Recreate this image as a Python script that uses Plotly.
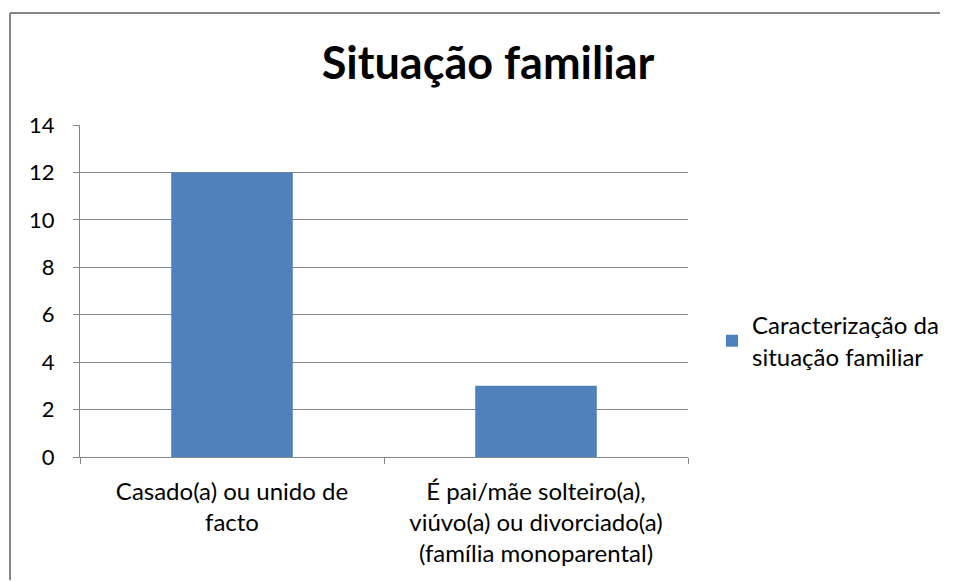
import plotly.graph_objects as go

categories = ["Casado(a) ou unido de<br>facto",
              "É pai/mãe solteiro(a),<br>viúvo(a) ou divorciado(a)<br>(família monoparental)"]
values = [12, 3]
series_name = "Caracterização da<br>situação familiar"
title_text = "Situação familiar"
y_ticks = [0, 2, 4, 6, 8, 10, 12, 14]

FONT = "Lato, 'Open Sans', sans-serif"
W, H = 957, 581
L, R, T, B = 80, 269, 125, 124
pw, ph = W - L - R, H - T - B

fig = go.Figure()
fig.add_trace(go.Bar(x=categories, y=values, name=series_name,
                     marker=dict(color="#4F81BD", line=dict(width=0)),
                     showlegend=True))

bx0 = (10 - L) / pw
bx1 = (940 - L) / pw
by0 = -(B - 1) / ph
by1 = (H - B - 13) / ph
border = dict(color="#868686", width=2)

fig.update_layout(
    width=W, height=H,
    margin=dict(l=L, r=R, t=T, b=B),
    paper_bgcolor="white", plot_bgcolor="white",
    bargap=0.6,
    title=dict(text="<b>" + title_text + "</b>", x=488 / W, xanchor="center",
               y=1 - 63 / H, yanchor="middle",
               font=dict(family=FONT, size=45, color="black")),
    font=dict(family=FONT, color="black"),
    showlegend=True,
    legend=dict(x=(712 - L) / pw, xanchor="left", y=(457 - 341) / ph, yanchor="middle",
                font=dict(size=24, color="black"), bgcolor="rgba(0,0,0,0)",
                itemsizing="constant", tracegroupgap=0),
    xaxis=dict(showline=True, linecolor="#868686", linewidth=1,
               ticks="outside", tickson="boundaries", ticklen=6, tickcolor="#868686",
               tickfont=dict(size=24, color="black"), showgrid=False,
               ticklabelstandoff=13),
    yaxis=dict(range=[0, 14], tickvals=y_ticks, showline=True, linecolor="#868686",
               linewidth=1, ticks="outside", ticklen=6, tickcolor="#868686",
               showgrid=True, gridcolor="#868686", gridwidth=1,
               tickfont=dict(size=22, color="black"), ticklabelstandoff=14,
               zeroline=False),
    shapes=[
        dict(type="line", xref="paper", yref="paper", x0=bx0, x1=bx1, y0=by1, y1=by1,
             line=border, layer="below"),
        dict(type="line", xref="paper", yref="paper", x0=bx0, x1=bx0, y0=by0, y1=by1,
             line=border, layer="below"),
    ],
)

fig.write_html("out.html", config={"displayModeBar": False})
with open("out.html", encoding="utf-8") as f:
    html = f.read()
html = html.replace("<body>", "<body style=\"margin:0;overflow:hidden\">", 1)
with open("out.html", "w", encoding="utf-8") as f:
    f.write(html)
